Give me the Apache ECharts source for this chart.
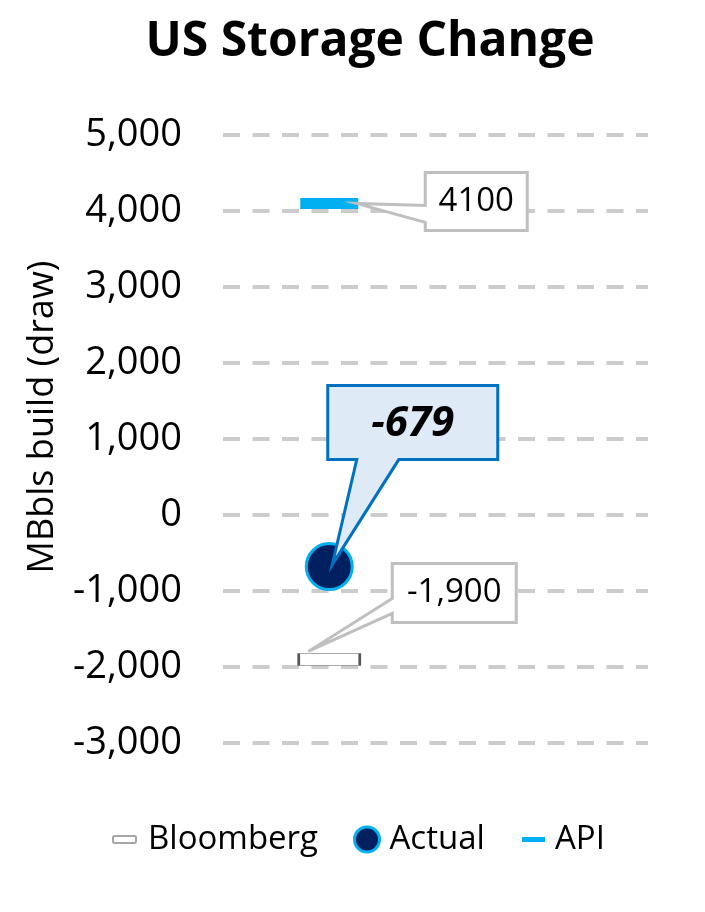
<!DOCTYPE html>
<html>
<head>
<meta charset="utf-8">
<script src="https://cdn.jsdelivr.net/npm/echarts@6/dist/echarts.min.js"></script>
<style>html,body{margin:0;padding:0;background:#fff}#c{width:705px;height:912px}</style>
</head>
<body>
<div id="c"></div>
<script>
// ---- data ----
const categories = ['Week', ''];          // data sits in first slot
const seriesNames = ['Bloomberg', 'Actual', 'API'];
const bloomberg = [-1900, null];
const actual = [-679, null];
const api = [4100, null];
const yMin = -3000, yMax = 5000, yStep = 1000;

const FONT = 'Open Sans';
const chart = echarts.init(document.getElementById('c'), null, {renderer: 'canvas'});

const fmtComma = v => v.toLocaleString('en-US');

chart.setOption({
  animation: false,
  title: {
    text: 'US Storage Change',
    left: 365, top: 13, textAlign: 'center',
    textStyle: {fontFamily: FONT, fontWeight: 'bold', fontSize: 48, color: '#000'}
  },
  grid: {left: 223, right: 57, top: 135, bottom: 169, containLabel: false},
  xAxis: {
    type: 'category', data: categories,
    axisLine: {show: false}, axisTick: {show: false}, axisLabel: {show: false},
    splitLine: {show: false}
  },
  yAxis: {
    type: 'value', min: yMin, max: yMax, interval: yStep,
    name: 'MBbls build (draw)', nameLocation: 'middle', nameGap: 162,
    nameTextStyle: {fontFamily: FONT, fontSize: 36, color: '#000', padding: [0, 0, 0, 44]},
    axisLine: {show: false}, axisTick: {show: false},
    axisLabel: {fontFamily: FONT, fontSize: 38, color: '#000', margin: 41,
      formatter: v => fmtComma(v)},
    splitLine: {lineStyle: {color: '#cccccc', width: 4, type: [17, 12.5]}}
  },
  legend: [
    {data: ['Bloomberg'], left: 107, top: 818, itemWidth: 23, itemHeight: 7, icon: 'roundRect',
     itemStyle: {color: '#fff', borderColor: '#a6a6a6', borderWidth: 2},
     textStyle: {fontFamily: FONT, fontSize: 33, color: '#000', padding: [0, 0, 0, 7]}},
    {data: ['Actual'], left: 348, top: 818, itemWidth: 25, itemHeight: 25, icon: 'circle',
     itemStyle: {color: '#002060', borderColor: '#00B0F0', borderWidth: 3},
     textStyle: {fontFamily: FONT, fontSize: 33, color: '#000', padding: [0, 0, 0, 5]}},
    {data: ['API'], left: 517, top: 818, itemWidth: 23, itemHeight: 5, icon: 'rect',
     itemStyle: {color: '#00B0F0'},
     textStyle: {fontFamily: FONT, fontSize: 33, color: '#000', padding: [0, 0, 0, 5]}}
  ],
  series: [
    {name: seriesNames[0], type: 'scatter', data: bloomberg, symbol: 'rect', symbolSize: [61, 12],
     itemStyle: {color: '#fff', borderColor: '#555', borderWidth: 1.2, opacity: 1}, z: 2},
    {name: seriesNames[1], type: 'scatter', data: actual, symbol: 'circle', symbolSize: 46,
     itemStyle: {color: '#002060', borderColor: '#00B0F0', borderWidth: 3, opacity: 1}, z: 3},
    {name: seriesNames[2], type: 'scatter', data: api, symbol: 'rect', symbolSize: [58, 11],
     itemStyle: {color: '#00B0F0', opacity: 1}, z: 2}
  ]
});

// ---- callouts anchored to data points ----
function px(si, v) { return chart.convertToPixel({seriesIndex: si}, [0, v]); }

const g = [];
// API callout (wedge from left side)
(function () {
  const p = px(2, api[0]);
  const tip = [p[0] + 27, p[1]];
  const L = p[0] + 96, T = p[1] - 31, W = 102, H = 58, R = L + W, B = T + H;
  const w1 = p[1] + 2, w2 = p[1] + 19;
  g.push({type: 'polygon', z: 10,
    shape: {points: [[L, T], [R, T], [R, B], [L, B], [L, w2], tip, [L, w1]]},
    style: {fill: '#fff', stroke: '#bfbfbf', lineWidth: 3, lineJoin: 'miter'}});
  g.push({type: 'text', z: 11, x: L + W / 2, y: T + H / 2,
    style: {text: String(api[0]), fontFamily: FONT, fontSize: 33, fill: '#000', align: 'center', verticalAlign: 'middle'}});
})();
// Actual callout (wedge from bottom)
(function () {
  const p = px(1, actual[0]);
  const tip = [p[0] + 3, p[1] - 2];
  const L = p[0] - 1.5, T = p[1] - 181, W = 170, H = 74, R = L + W, B = T + H;
  const x1 = p[0] + 27.5, x2 = p[0] + 69.5;
  g.push({type: 'polygon', z: 10,
    shape: {points: [[L, T], [R, T], [R, B], [x2, B], tip, [x1, B], [L, B]]},
    style: {fill: '#DEEBF7', stroke: '#0070C0', lineWidth: 3, lineJoin: 'miter'}});
  g.push({type: 'text', z: 11, x: L + W / 2, y: T + H / 2 + 1,
    style: {text: String(actual[0]), fontFamily: FONT, fontSize: 42, fontWeight: 'bold', fontStyle: 'italic',
      fill: '#000', align: 'center', verticalAlign: 'middle'}});
})();
// Bloomberg callout (wedge from left side)
(function () {
  const p = px(0, bloomberg[0]);
  const tip = [p[0] - 21, p[1] - 8];
  const L = p[0] + 63, T = p[1] - 96, W = 124, H = 59, R = L + W, B = T + H;
  const w1 = p[1] - 61, w2 = p[1] - 46;
  g.push({type: 'polygon', z: 10,
    shape: {points: [[L, T], [R, T], [R, B], [L, B], [L, w2], tip, [L, w1]]},
    style: {fill: '#fff', stroke: '#bfbfbf', lineWidth: 3, lineJoin: 'miter'}});
  g.push({type: 'text', z: 11, x: L + W / 2, y: T + H / 2,
    style: {text: fmtComma(bloomberg[0]), fontFamily: FONT, fontSize: 33, fill: '#000', align: 'center', verticalAlign: 'middle'}});
})();
chart.setOption({graphic: g});
</script>
</body>
</html>
